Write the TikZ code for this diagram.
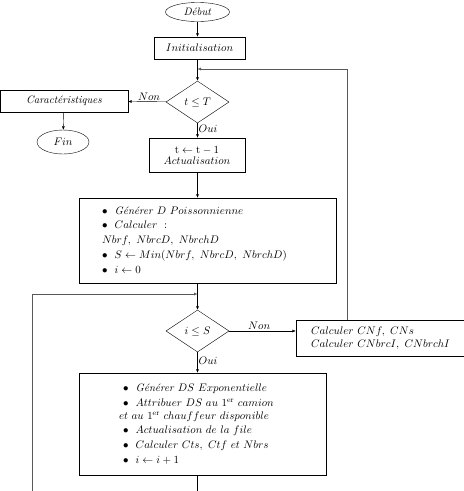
\documentclass[tikz,border=0pt]{standalone}
\usepackage{amsmath,amssymb}
\usepackage{tikz}
\usetikzlibrary{positioning,arrows.meta,shapes.geometric}
\tikzset{
  box/.style={draw, rectangle, inner sep=2pt, align=center},
  listbox/.style={draw, rectangle, align=left, inner ysep=4pt},
  term/.style={draw, ellipse, inner sep=0pt},
  cond/.style={draw, diamond, inner sep=0pt, minimum width=63pt, minimum height=42pt},
  edge/.style={-{Latex[length=3.5pt,width=3pt]}, thin},
  loopline/.style={edge, draw=black!65},
  lbl/.style={inner sep=1pt},
}

\begin{document}
\begin{tikzpicture}[x=1pt, y=-1pt, font=\fontsize{10.8}{13}\selectfont]
  \useasboundingbox (0,0) rectangle (464,491);
  % colonne principale
  \node[term, minimum width=64pt, minimum height=19pt] (deb) at (197.5,12) {\textit{Début}};
  \node[box, minimum width=91pt, minimum height=22pt] (init) at (199.5,48) {$Initialisation$};
  \node[cond] (tt) at (197.5,102) {$t \leq T$};
  \node[box, minimum width=128pt, minimum height=22pt] (car) at (64,101) {\textit{Caractéristiques}};
  \node[term, minimum width=52pt, minimum height=24pt] (fin) at (63,142) {$Fin$};
  \node[box, minimum width=96pt, minimum height=34pt, inner sep=1pt] (act) at (197,155)
    {$\mathrm{t} \leftarrow \mathrm{t}-1$\\[-2pt]$Actualisation$};
  \node[listbox, text width=211pt, inner xsep=23pt, minimum height=85pt] (gen) at (207.5,240.5)
    {$\bullet$\ \ \textit{Générer} $D\ Poissonnienne$\\[1pt]
     $\bullet$\ \ $Calculer\ :$\\[2pt]
     $Nbrf,\ NbrcD,\ NbrchD$\\[2pt]
     $\bullet$\ \ $S \leftarrow Min(Nbrf,\ NbrcD,\ NbrchD)$\\[2pt]
     $\bullet$\ \ $i \leftarrow 0$};
  \node[cond] (is) at (197.5,331) {$i \leq S$};
  \node[box, align=left, minimum width=165pt, minimum height=36pt, inner xsep=15pt] (cal) at (380.5,338)
    {$Calculer\ CNf,\ CNs$\\[0pt]$Calculer\ CNbrcI,\ CNbrchI$};
  \node[listbox, text width=167pt, inner xsep=40pt, minimum height=102pt] (srv) at (202.5,424)
    {\hspace*{4pt}$\bullet$\ \ \textit{Générer} $DS\ Exponentielle$\\[2pt]
     \hspace*{4pt}$\bullet$\ \ $Attribuer\ DS\ au$ 1\textsuperscript{er} $camion$\\[0pt]
     $et\ au$ 1\textsuperscript{er} $chauffeur\ disponible$\\[1pt]
     \hspace*{4pt}$\bullet$\ \ $Actualisation\ de\ la\ file$\\[2pt]
     \hspace*{4pt}$\bullet$\ \ $Calculer\ Cts,\ Ctf\ et\ Nbrs$\\[2pt]
     \hspace*{4pt}$\bullet$\ \ $i \leftarrow i+1$};
  % points libres des boucles
  \coordinate (rtop) at (347,69);
  \coordinate (ltop) at (32,294);
  \coordinate (lbot) at (32,491);
  \coordinate (sbot) at (197.5,491);
  % liaisons
  \draw[edge] (deb) -- (init.north -| deb);
  \draw[edge] (init.south -| deb) -- (tt);
  \draw[edge] (tt) -- node[lbl, above, pos=0.45] {$Non$} (car);
  \draw[edge] (car) -- (fin);
  \draw[edge] (tt) -- node[lbl, right, pos=0.35] {$Oui$} (act.north -| tt);
  \draw[edge] (act.south -| tt) -- (gen.north -| tt);
  \draw[edge] (gen.south -| tt) -- (is);
  \draw[edge] (is) -- node[lbl, above, pos=0.45] {$Non$} (is -| cal.west);
  \draw[edge] (is) -- node[lbl, right, pos=0.4] {$Oui$} (srv.north -| is);
  \draw[thin] (srv.south -| is) -- (sbot);
  \draw[loopline] (cal.north -| rtop) -- (rtop) -- (tt |- rtop);
  \draw[loopline] (lbot) -- (ltop) -- (is |- ltop);
\end{tikzpicture}
\end{document}
